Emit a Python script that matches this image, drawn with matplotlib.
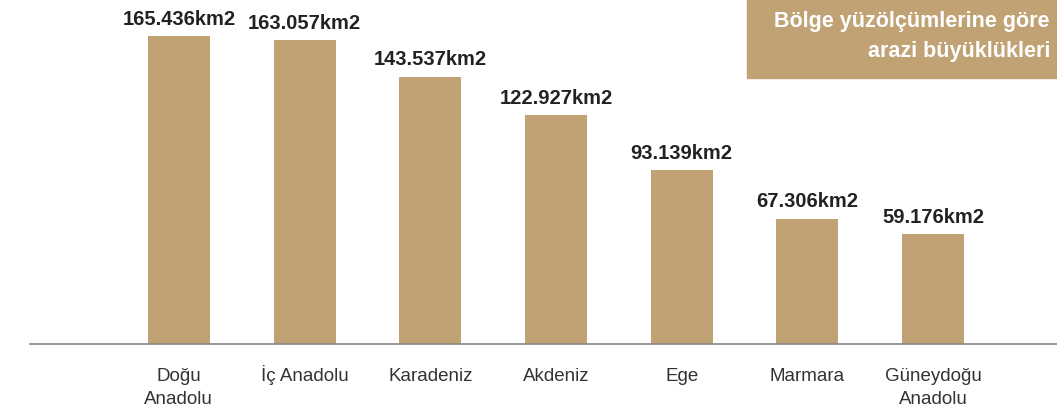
import matplotlib
matplotlib.use("Agg")
import matplotlib.pyplot as plt
from matplotlib.patches import Rectangle

categories = ["Doğu\nAnadolu", "İç Anadolu", "Karadeniz", "Akdeniz", "Ege", "Marmara", "Güneydoğu\nAnadolu"]
values = [165.436, 163.057, 143.537, 122.927, 93.139, 67.306, 59.176]
value_labels = ["165.436km2", "163.057km2", "143.537km2", "122.927km2", "93.139km2", "67.306km2", "59.176km2"]
title_lines = ["Bölge yüzölçümlerine göre", "arazi büyüklükleri"]

tan = "#C0A274"
W, H = 1057, 412
fig = plt.figure(figsize=(W / 100, H / 100), dpi=100)
ax = fig.add_axes([30 / W, 68 / H, 1 - 30 / W, 1 - 68 / H])

x = list(range(len(categories)))
ax.bar(x, values, width=0.493, color=tan, zorder=2)
ax.set_xlim(-1.184, 6.986)
ax.set_ylim(0, 184.6)

for xi, v, lab in zip(x, values, value_labels):
    ax.annotate(lab, (xi, v), xytext=(0, 8), textcoords="offset points",
                ha="center", va="baseline", fontsize=14.5, fontweight="bold",
                color="#222222", family="Liberation Sans")

for s in ["top", "right", "left"]:
    ax.spines[s].set_visible(False)
ax.spines["bottom"].set_color("#888888")
ax.spines["bottom"].set_linewidth(1.2)
ax.set_yticks([])
ax.set_xticks(x)
ax.set_xticklabels([])
ax.tick_params(axis="x", length=0)

line_offsets = [-26.8, -43.0]
for xi, cat in zip(x, categories):
    for line, off in zip(cat.split("\n"), line_offsets):
        ax.annotate(line, (xi, 0), xytext=(0, off), textcoords="offset points",
                    ha="center", va="baseline", fontsize=13.5, color="#333333",
                    family="Liberation Sans", annotation_clip=False)

# title box
fig.patches.append(Rectangle((747 / W, 1 - 78 / H), 1 - 747 / W, 78 / H,
                             transform=fig.transFigure, color=tan, zorder=0))
for line, yb in zip(title_lines, [27, 57]):
    fig.text(1050 / W, 1 - yb / H, line, ha="right", va="baseline", color="white",
             fontsize=15.5, fontweight="bold", family="Liberation Sans")

fig.savefig("out.png", dpi=100)
